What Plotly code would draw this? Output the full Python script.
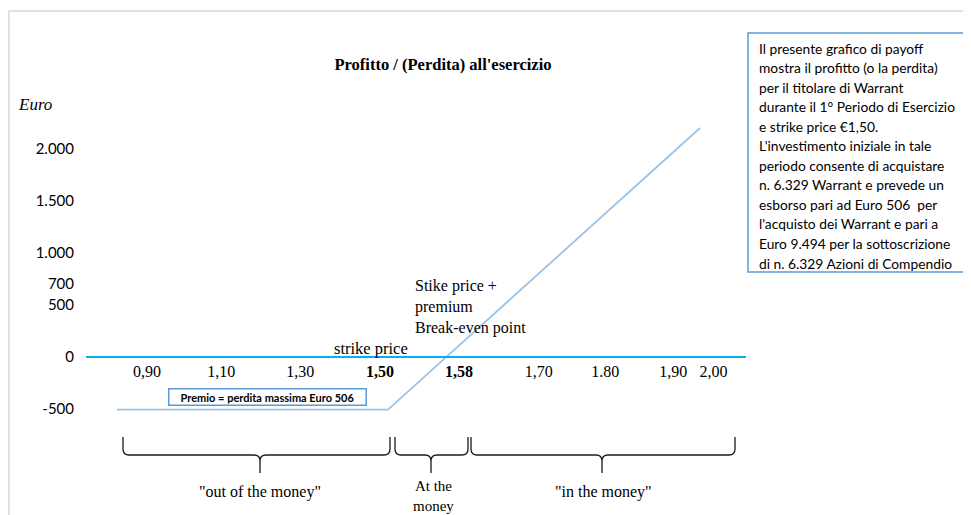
import plotly.graph_objects as go

# ---------------- data ----------------
price_labels = ["0,90", "1,10", "1,30", "<b>1,50</b>", "<b>1,58</b>", "1,70", "1.80", "1,90", "2,00"]
price_slots = [0.0, 0.94, 1.94, 2.95, 3.95, 4.96, 5.8, 6.66, 7.17]   # category slot positions on the x axis

y_tick_values = [-500, 0, 500, 700, 1000, 1500, 2000]
y_tick_labels = ["-500", "0", "500", "700", "1.000", "1.500", "2.000"]

payoff_slots = [-0.38, 3.05, 7.0]       # start, strike (bend), end
payoff_values = [-506, -506, 2202]      # Euro

box_lines = [
    "Il presente grafico di payoff",
    "mostra il profitto (o la perdita)",
    "per il titolare di Warrant",
    "durante il 1° Periodo di Esercizio",
    "e strike price €1,50.",
    "L'investimento iniziale in tale",
    "periodo consente di acquistare",
    "n. 6.329 Warrant e prevede un",
    "esborso pari ad Euro 506  per",
    "l'acquisto dei Warrant e pari a",
    "Euro 9.494 per la sottoscrizione",
    "di n. 6.329 Azioni di Compendio",
]

# ---------------- layout geometry ----------------
W, H = 971, 515
OFF = 8                      # page offset of the figure inside the window
L, T = 86 - OFF, 30 - OFF
R = W - (746 - OFF)
B = H - (500 - OFF)
X_RANGE = [-0.772, 7.582]
Y_RANGE = [-1375, 3144]

def px(x):
    return (x - OFF - L) / (W - L - R)

def py(y):
    return (H - B - (y - OFF)) / (H - T - B)

SERIF = "Liberation Serif"
SANS = "Lato"

fig = go.Figure()
fig.add_trace(go.Scatter(
    x=payoff_slots, y=payoff_values, mode="lines",
    line=dict(color="#9DC3E6", width=1.8), hoverinfo="skip", showlegend=False,
))

zero_pos = (0 - Y_RANGE[0]) / (Y_RANGE[1] - Y_RANGE[0])

fig.update_layout(
    width=W, height=H,
    margin=dict(l=L, r=R, t=T, b=B),
    paper_bgcolor="white", plot_bgcolor="white",
    showlegend=False,
    title=dict(text="<b>Profitto / (Perdita) all'esercizio</b>", x=(443 - OFF) / W, y=1 - (64 - OFF) / H,
               xanchor="center", yanchor="middle", xref="container", yref="container",
               font=dict(family=SERIF, size=16.5, color="#000")),
    xaxis=dict(range=X_RANGE, tickvals=price_slots, ticktext=price_labels,
               anchor="free", position=zero_pos, showline=True, linecolor="#00B0F0", linewidth=2,
               showgrid=False, zeroline=False, ticks="", ticklabelstandoff=0,
               tickfont=dict(family=SERIF, size=16, color="#000")),
    yaxis=dict(range=Y_RANGE, tickvals=y_tick_values, ticktext=y_tick_labels,
               showline=False, showgrid=False, zeroline=False, ticks="",
               ticklabelstandoff=11,
               tickfont=dict(family=SANS, size=15, color="#000")),
)

shapes = []
ann = []

# outer light frame
shapes.append(dict(type="rect", xref="paper", yref="paper",
                   x0=px(9), y0=py(530), x1=px(990), y1=py(11),
                   line=dict(color="#D9D9D9", width=1.5), layer="below"))

# y axis title
ann.append(dict(text="<i>Euro</i>", x=px(16), y=py(105), xref="paper", yref="paper",
                xanchor="left", yanchor="middle", showarrow=False,
                font=dict(family=SERIF, size=17, color="#000")))

# strike price label
ann.append(dict(text="strike price", x=px(371), y=py(348), xref="paper", yref="paper",
                xanchor="center", yanchor="middle", showarrow=False,
                font=dict(family=SERIF, size=16.5, color="#000")))

# break-even label
ann.append(dict(text="Stike price +<br>premium<br>Break-even point", x=px(413), y=py(307),
                xref="paper", yref="paper", xanchor="left", yanchor="middle", align="left",
                showarrow=False, font=dict(family=SERIF, size=16, color="#000")))

# Premio box
ann.append(dict(text="<b>Premio = perdita massima Euro 506</b>", x=px(267), y=py(397),
                xref="paper", yref="paper", xanchor="center", yanchor="middle",
                showarrow=False, width=194, height=13, borderpad=1,
                bordercolor="#5B9BD5", borderwidth=1.5, bgcolor="white",
                font=dict(family=SANS, size=11, color="#000")))

# right text box
shapes.append(dict(type="rect", xref="paper", yref="paper",
                   x0=px(748), y0=py(272), x1=px(990), y1=py(33),
                   line=dict(color="#5B9BD5", width=1.5), fillcolor="white"))
for i, line in enumerate(box_lines):
    ann.append(dict(text=line, x=px(757), y=py(48 + i * 19.55), xref="paper", yref="paper",
                    xanchor="left", yanchor="middle", showarrow=False,
                    font=dict(family=SANS, size=13.8, color="#000")))

# braces
def brace(x1, x2, xc, ytop=437, ymid=455, ytip=473, r=6):
    return (f"M {px(x1)},{py(ytop)} L {px(x1)},{py(ymid - r)} "
            f"Q {px(x1)},{py(ymid)} {px(x1 + r)},{py(ymid)} "
            f"L {px(xc - r)},{py(ymid)} Q {px(xc)},{py(ymid)} {px(xc)},{py(ymid + r)} "
            f"L {px(xc)},{py(ytip)} M {px(xc)},{py(ymid + r)} "
            f"Q {px(xc)},{py(ymid)} {px(xc + r)},{py(ymid)} "
            f"L {px(x2 - r)},{py(ymid)} Q {px(x2)},{py(ymid)} {px(x2)},{py(ymid - r)} "
            f"L {px(x2)},{py(ytop)}")

for x1, x2, xc in [(123, 390, 260), (395, 468, 431), (471, 735, 602)]:
    shapes.append(dict(type="path", xref="paper", yref="paper", path=brace(x1, x2, xc),
                       line=dict(color="#1a1a1a", width=1.3)))

for text, xc, yc, fs in [('"out of the money"', 260, 492, 16), ("At the<br>money", 433, 496, 15),
                         ('"in the money"', 603, 492, 16)]:
    ann.append(dict(text=text, x=px(xc), y=py(yc), xref="paper", yref="paper",
                    xanchor="center", yanchor="middle", showarrow=False,
                    font=dict(family=SERIF, size=fs, color="#000")))

fig.update_layout(shapes=shapes, annotations=ann)
fig.write_html("out.html")
